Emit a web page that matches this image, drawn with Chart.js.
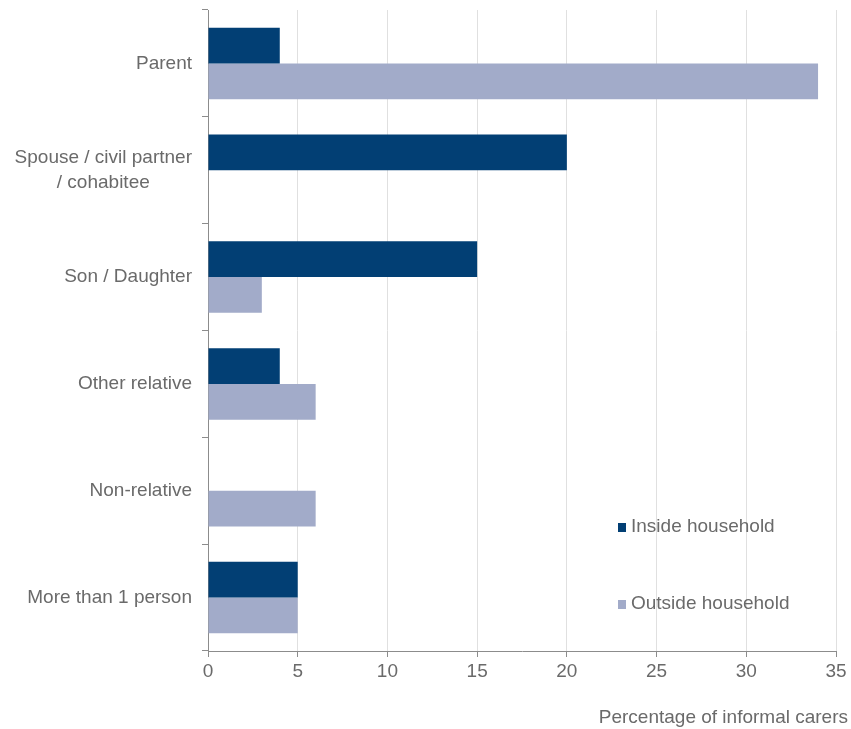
<!DOCTYPE html>
<html>
<head>
<meta charset="utf-8">
<script src="https://cdn.jsdelivr.net/npm/chart.js@4/dist/chart.umd.min.js"></script>
<style>
  html, body { margin: 0; padding: 0; background: #fff; }
  #wrap { width: 851px; height: 729px; }
</style>
</head>
<body>
<div id="wrap"><canvas id="carersChart"></canvas></div>
<script>
const categories = [
  'Parent',
  ['Spouse / civil partner', '/ cohabitee        '],
  'Son / Daughter',
  'Other relative',
  'Non-relative',
  'More than 1 person'
];
const insideHousehold = [4, 20, 15, 4, 0, 5];
const outsideHousehold = [34, 0, 3, 6, 6, 5];
const xTicks = [0, 5, 10, 15, 20, 25, 30, 35];
const xTitle = 'Percentage of informal carers';

const textColor = '#6a6a6a';
const axisColor = '#8c8c8c';
const fontFamily = '"Liberation Sans", Arial, sans-serif';

// legend inside the plot (bottom right) and the x axis title, which sits past the plot edge
const extras = {
  id: 'extras',
  afterDraw(chart) {
    const c = chart.ctx;
    const ys = [527, 604];
    c.save();
    c.font = '19px ' + fontFamily;
    c.textBaseline = 'middle';
    c.textAlign = 'left';
    chart.data.datasets.forEach((ds, i) => {
      c.fillStyle = ds.backgroundColor;
      c.fillRect(618, ys[i] - 4, 8, 9);
      c.fillStyle = textColor;
      c.fillText(ds.label, 631, ys[i]);
    });
    c.textAlign = 'right';
    c.fillText(xTitle, 848, 718);
    c.restore();
  }
};

const ctx = document.getElementById('carersChart').getContext('2d');
new Chart(ctx, {
  type: 'bar',
  data: {
    labels: categories,
    datasets: [
      { label: 'Inside household', data: insideHousehold, backgroundColor: '#023f74' },
      { label: 'Outside household', data: outsideHousehold, backgroundColor: '#a2abc9' }
    ]
  },
  options: {
    indexAxis: 'y',
    responsive: true,
    maintainAspectRatio: false,
    animation: false,
    categoryPercentage: 0.67,
    barPercentage: 1,
    layout: { padding: { top: 10, right: 15, left: 0, bottom: 0 } },
    plugins: {
      legend: { display: false },
      tooltip: { enabled: false }
    },
    scales: {
      x: {
        min: 0,
        max: 35,
        afterBuildTicks: scale => { scale.ticks = xTicks.map(v => ({ value: v })); },
        afterFit: scale => { scale.height = 78; },
        grid: {
          color: '#e0e0e0',
          tickColor: axisColor,
          tickLength: 6
        },
        border: { color: axisColor, width: 1 },
        ticks: {
          color: textColor,
          padding: 3,
          font: { family: fontFamily, size: 19 }
        }
      },
      y: {
        afterFit: scale => {
          scale.width = 208;
          scale.paddingTop = 0;
          scale.paddingBottom = 0;
        },
        grid: {
          offset: true,
          drawOnChartArea: false,
          tickColor: axisColor,
          tickLength: 6
        },
        border: { color: axisColor, width: 1 },
        ticks: {
          color: textColor,
          padding: 10,
          font: { family: fontFamily, size: 19, lineHeight: 1.32 }
        }
      }
    }
  },
  plugins: [extras]
});
</script>
</body>
</html>
